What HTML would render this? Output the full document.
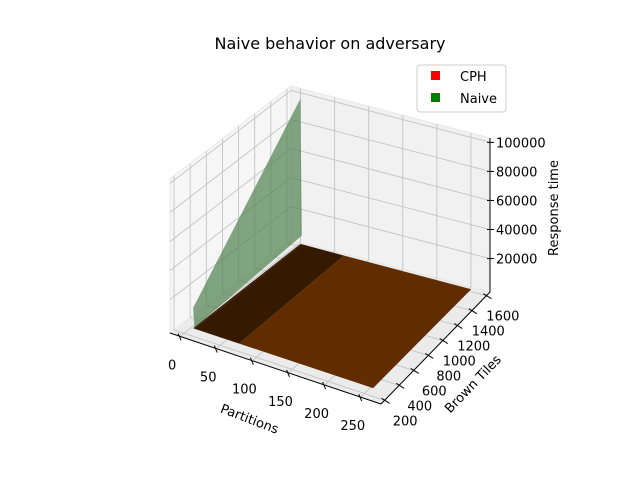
<!DOCTYPE html>
<html><head><meta charset="utf-8"><style>
body{margin:0;background:#fff;}
svg{display:block;font-family:"DejaVu Sans","Liberation Sans",sans-serif;}
</style></head><body>
<svg id="chart" width="640" height="480" viewBox="0 0 640 480" xmlns="http://www.w3.org/2000/svg">
<rect width="640" height="480" fill="#fff"/>
<text x="330" y="49" font-size="16" text-anchor="middle">Naive behavior on adversary</text>
<g id="plot"></g>
<g>
<rect x="417" y="65" width="89" height="47" rx="3" fill="#fff" fill-opacity="0.8" stroke="#ccc"/>
<rect x="431" y="71" width="9" height="9" fill="#ff0000"/>
<text x="460" y="81" font-size="13">CPH</text>
<rect x="431" y="93" width="9" height="9" fill="#008000"/>
<text x="460" y="103" font-size="13">Naive</text>
</g>
<text transform="translate(248,423) rotate(21)" font-size="13" text-anchor="middle">Partitions</text>
<text transform="translate(476,387) rotate(-46)" font-size="13" text-anchor="middle">Brown Tiles</text>
<text transform="translate(558,208) rotate(-90)" font-size="13" text-anchor="middle">Response time</text>
</svg>
<script>
const partitions = [8, 10, 72, 258];
const tiles = [240, 1580];
// naive[i][j]: response time at partitions[i], tiles[j]
const naiveValues = [[14000, 100000], [800, 6000], [200, 400], [0, 0]];
const cphValues = [[0, 0], [0, 0], [0, 0], [0, 0]];
const xTicks = [0, 50, 100, 150, 200, 250];
const yTicks = [200, 400, 600, 800, 1000, 1200, 1400, 1600];
const zTicks = [20000, 40000, 60000, 80000, 100000];

const XMIN=-14, XMAX=278, YMIN=150, YMAX=1650, ZMIN=-3000, ZMAX=103000;
const A=[170,333], B=[381,404], C=[490,292], D=[291,240], ZH=154;
function P(x,y,z){
  const u=(x-XMIN)/(XMAX-XMIN), v=(y-YMIN)/(YMAX-YMIN), w=(z-ZMIN)/(ZMAX-ZMIN);
  const sx=(1-u)*(1-v)*A[0]+u*(1-v)*B[0]+u*v*C[0]+(1-u)*v*D[0];
  const sy=(1-u)*(1-v)*A[1]+u*(1-v)*B[1]+u*v*C[1]+(1-u)*v*D[1];
  return [sx, sy - w*ZH];
}
const NS="http://www.w3.org/2000/svg";
const g=document.getElementById('plot');
function el(tag,attrs,parent){const e=document.createElementNS(NS,tag);for(const k in attrs)e.setAttribute(k,attrs[k]);(parent||g).appendChild(e);return e;}
function pts(a){return a.map(p=>p[0].toFixed(1)+','+p[1].toFixed(1)).join(' ');}

let e;
e=el('polygon',{points:pts([P(XMIN,YMIN,ZMIN),P(XMAX,YMIN,ZMIN),P(XMAX,YMAX,ZMIN),P(XMIN,YMAX,ZMIN)]),fill:'#ebebeb',stroke:'#e0e0e0'});


e=el('polygon',{points:pts([P(XMIN,YMIN,ZMIN),P(XMIN,YMAX,ZMIN),P(XMIN,YMAX,ZMAX),P(XMIN,YMIN,ZMAX)]),fill:'#f6f6f6',stroke:'#e8e8e8'});


e=el('polygon',{points:pts([P(XMIN,YMAX,ZMIN),P(XMAX,YMAX,ZMIN),P(XMAX,YMAX,ZMAX),P(XMIN,YMAX,ZMAX)]),fill:'#f1f1f1',stroke:'#e8e8e8'});



function line(p,q,stroke,w,name){const l=el('line',{x1:p[0],y1:p[1],x2:q[0],y2:q[1],stroke:stroke,'stroke-width':w});return l;}
xTicks.forEach(t=>{line(P(t,YMIN,ZMIN),P(t,YMAX,ZMIN),'#c4c4c4',0.9,'grid-x');line(P(t,YMAX,ZMIN),P(t,YMAX,ZMAX),'#c4c4c4',0.9,'grid-x');});
yTicks.forEach(t=>{line(P(XMIN,t,ZMIN),P(XMAX,t,ZMIN),'#c4c4c4',0.9,'grid-y');line(P(XMIN,t,ZMIN),P(XMIN,t,ZMAX),'#c4c4c4',0.9,'grid-y');});
zTicks.forEach(t=>{line(P(XMIN,YMIN,t),P(XMIN,YMAX,t),'#c4c4c4',0.9,'grid-z');line(P(XMIN,YMAX,t),P(XMAX,YMAX,t),'#c4c4c4',0.9,'grid-z');});

for(let i=0;i<partitions.length-1;i++){
  const q=el('polygon',{points:pts([P(partitions[i],tiles[0],cphValues[i][0]),P(partitions[i+1],tiles[0],cphValues[i+1][0]),P(partitions[i+1],tiles[1],cphValues[i+1][1]),P(partitions[i],tiles[1],cphValues[i][1])]),fill:i<2?'#361a00':'#612c00',stroke:'none'});
  
  
}
for(let i=0;i<partitions.length-1;i++){
  const q=el('polygon',{points:pts([P(partitions[i],tiles[0],naiveValues[i][0]),P(partitions[i+1],tiles[0],naiveValues[i+1][0]),P(partitions[i+1],tiles[1],naiveValues[i+1][1]),P(partitions[i],tiles[1],naiveValues[i][1])]),fill:'#4f804f','fill-opacity':i<1?0.7:0,stroke:'none'});
  
  
}

line(P(XMIN,YMIN,ZMIN),P(XMAX,YMIN,ZMIN),'#000',1,'x-axis-line');
line(P(XMAX,YMIN,ZMIN),P(XMAX,YMAX,ZMIN),'#000',1,'y-axis-line');
line(P(XMAX,YMAX,ZMIN),P(XMAX,YMAX,ZMAX),'#000',1,'z-axis-line');
function txt(p,s,anchor,name){const t=el('text',{x:p[0].toFixed(1),y:p[1].toFixed(1),'font-size':13,'text-anchor':anchor});t.textContent=s;}
xTicks.forEach(t=>{const p=P(t,YMIN,ZMIN);line([p[0]-2,p[1]-3],[p[0]+1,p[1]+4],'#000',1,'x-tick');txt([p[0]-8,p[1]+33],String(t),'middle','x-tick-label');});
yTicks.forEach(t=>{const p=P(XMAX,t,ZMIN);line([p[0]-3,p[1]-2],[p[0]+5,p[1]+3],'#000',1,'y-tick');txt([p[0]+33,p[1]+25],String(t),'end','y-tick-label');});
zTicks.forEach(t=>{const p=P(XMAX,YMAX,t);line([p[0]-3,p[1]],[p[0]+4,p[1]],'#000',1,'z-tick');txt([p[0]+6,p[1]+5],String(t),'start','z-tick-label');});
</script>
</body></html>
